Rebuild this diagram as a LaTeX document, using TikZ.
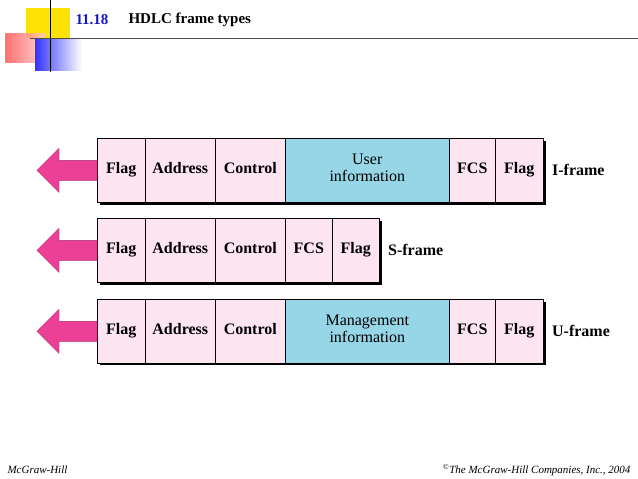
\documentclass[tikz,border=0pt]{standalone}
\usepackage{fontspec}
\setmainfont{Liberation Serif}
\usepackage{tikz}
\usetikzlibrary{positioning}
\definecolor{cellpink}{RGB}{252, 228, 240}
\definecolor{cellblue}{RGB}{150, 214, 230}
\definecolor{arrowpink}{RGB}{236, 64, 150}
\definecolor{titleblue}{RGB}{20, 20, 200}
\newcommand*{\ch}{64}

\begin{document}
\begin{tikzpicture}[
   x=1pt, y=-1pt,
   cell/.style={rectangle, draw=black, fill=cellpink, line width=0.6, anchor=north west,
                inner sep=0, minimum height=\ch, align=center,
                font=\fontsize{16}{17}\selectfont\bfseries, execute at begin node=\strut},
   infocell/.style={cell, fill=cellblue, font=\fontsize{16}{17}\selectfont},
   framelabel/.style={anchor=west, font=\fontsize{16}{17}\selectfont\bfseries},
   sendarrow/.style={fill=arrowpink, draw=arrowpink!70!black, line width=0.4}
  ]
  \useasboundingbox (0, 0) rectangle (638, 479);

  % Corner decoration
  \fill[yellow!85!orange] (26, 8) rectangle (70, 38);
  \shade[left color=red!70, right color=red!20, opacity=0.8] (5, 33) rectangle (45, 62);
  \shade[left color=blue!80, right color=white] (35, 38) rectangle (82, 70);
  \draw[black, line width=1] (50, 0) -- (50, 72);
  \draw[black!70, line width=0.8] (30, 38) -- (638, 38);

  \node (num) at (72, 20) [anchor=west, text=titleblue, font=\fontsize{15}{17}\selectfont\bfseries] {11.18};
  \node (title) at (125, 20) [anchor=west, font=\fontsize{15}{17}\selectfont\bfseries] {HDLC frame types};

  % Drop shadows
  \fill[black] (100, 141) rectangle (546, 205);
  \fill[black] (100, 221) rectangle (382, 285);
  \fill[black] (100, 302) rectangle (546, 365);

  % I-frame
  \node (IF) at (97, 138) [cell, minimum width=48] {Flag};
  \node (IA) at (145, 138) [cell, minimum width=70] {Address};
  \node (IC) at (215, 138) [cell, minimum width=70] {Control};
  \node (II) at (285, 138) [infocell, minimum width=164] {User\\\strut information};
  \node (IS) at (449, 138) [cell, minimum width=46] {FCS};
  \node (IG) at (495, 138) [cell, minimum width=48] {Flag};
  \node (IL) [framelabel, right=5pt of IG] {I-frame};

  % S-frame
  \node (SF) at (97, 218) [cell, minimum width=48] {Flag};
  \node (SA) at (145, 218) [cell, minimum width=70] {Address};
  \node (SC) at (215, 218) [cell, minimum width=70] {Control};
  \node (SS) at (285, 218) [cell, minimum width=47] {FCS};
  \node (SG) at (332, 218) [cell, minimum width=47] {Flag};
  \node (SL) [framelabel, right=5pt of SG] {S-frame};

  % U-frame
  \node (UF) at (97, 299) [cell, minimum width=48] {Flag};
  \node (UA) at (145, 299) [cell, minimum width=70] {Address};
  \node (UC) at (215, 299) [cell, minimum width=70] {Control};
  \node (UI) at (285, 299) [infocell, minimum width=164] {Management\\\strut information};
  \node (US) at (449, 299) [cell, minimum width=46] {FCS};
  \node (UG) at (495, 299) [cell, minimum width=48] {Flag};
  \node (UL) [framelabel, right=5pt of UG] {U-frame};

  % Direction arrows
  \foreach \N in {IF, SF, UF} {
    \draw[sendarrow] (\N.west) ++(0, -10) -- ++(-38, 0) -- ++(0, -12) -- ++(-22, 22)
      -- ++(22, 22) -- ++(0, -12) -- ++(38, 0) -- cycle;
  }

  % Footer
  \node (left) at (4, 470) [anchor=west, font=\fontsize{11}{12}\selectfont\itshape] {McGraw-Hill};
  \node (right) at (634, 470) [anchor=east, font=\fontsize{11}{12}\selectfont\itshape] {\textsuperscript{\textcopyright}The McGraw-Hill Companies, Inc., 2004};

\end{tikzpicture}
\end{document}
